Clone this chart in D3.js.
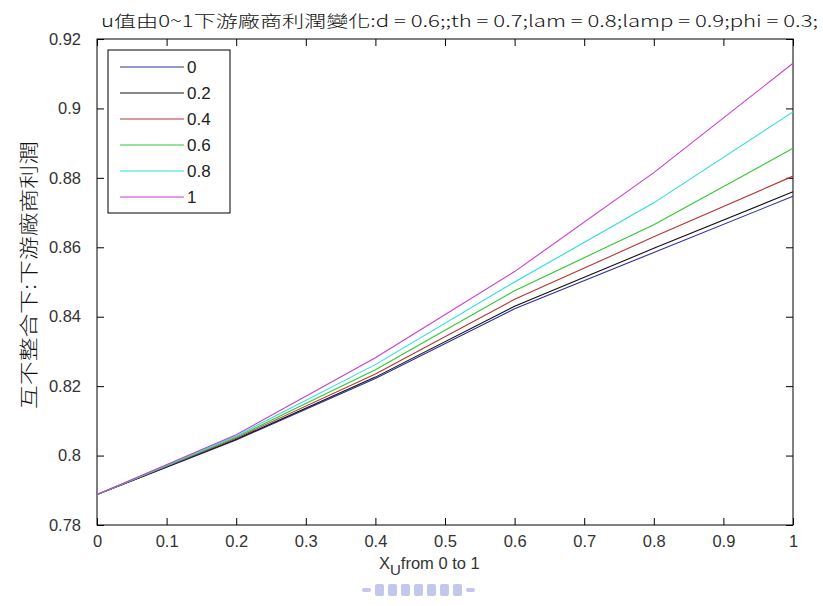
<!DOCTYPE html>
<html><head><meta charset="utf-8">
<script src="https://cdn.jsdelivr.net/npm/d3@7"></script>
<style>body{margin:0;background:#fff}svg{display:block}</style>
</head><body>
<svg id="c" width="823" height="606"></svg>
<script>
const xValues = [0, 0.2, 0.4, 0.6, 0.8, 1];
const seriesNames = ["0", "0.2", "0.4", "0.6", "0.8", "1"];
const u0   = [0.7888, 0.8045, 0.8222, 0.8423, 0.8585, 0.8747];
const u02  = [0.7888, 0.8047, 0.8226, 0.8430, 0.8597, 0.8760];
const u04  = [0.7888, 0.8050, 0.8235, 0.8450, 0.8630, 0.8805];
const u06  = [0.7888, 0.8053, 0.8247, 0.8475, 0.8665, 0.8885];
const u08  = [0.7888, 0.8056, 0.8262, 0.8500, 0.8728, 0.8990];
const u1   = [0.7888, 0.8060, 0.8282, 0.8530, 0.8815, 0.9130];
const xTicks = [0, 0.1, 0.2, 0.3, 0.4, 0.5, 0.6, 0.7, 0.8, 0.9, 1];
const yTicks = [0.78, 0.8, 0.82, 0.84, 0.86, 0.88, 0.9, 0.92];
const colors = ["#2e2ea6", "#111111", "#b83434", "#30c830", "#28dede", "#cc3acc"];
const titleText = "u值由0~1下游廠商利潤變化:d = 0.6;;th = 0.7;lam = 0.8;lamp = 0.9;phi = 0.3;";
const yLabel = "互不整合下:下游廠商利潤";

const series = [u0, u02, u04, u06, u08, u1];
const svg = d3.select("#c");
const L = 97, R = 793, T = 39, B = 525;
const x = d3.scaleLinear().domain([0, 1]).range([L, R]);
const y = d3.scaleLinear().domain([0.78, 0.92]).range([B, T]);
const font = "'Liberation Sans', Arial, sans-serif";

// frame
svg.append("rect").attr("x", L).attr("y", T).attr("width", R - L).attr("height", B - T)
  .attr("fill", "none").attr("stroke", "#000").attr("stroke-width", 1);

// axes with inward ticks
const fmt = d => d3.format("")(+d.toFixed(2));
const xb = svg.append("g").attr("transform", `translate(0,${B})`)
  .call(d3.axisBottom(x).tickValues(xTicks).tickSizeInner(-7).tickSizeOuter(0).tickPadding(10).tickFormat(fmt));
const xt = svg.append("g").attr("transform", `translate(0,${T})`)
  .call(d3.axisTop(x).tickValues(xTicks).tickSizeInner(-7).tickSizeOuter(0).tickFormat(""));
const yl = svg.append("g").attr("transform", `translate(${L},0)`)
  .call(d3.axisLeft(y).tickValues(yTicks).tickSizeInner(-7).tickSizeOuter(0).tickPadding(16).tickFormat(fmt));
const yr = svg.append("g").attr("transform", `translate(${R},0)`)
  .call(d3.axisRight(y).tickValues(yTicks).tickSizeInner(-7).tickSizeOuter(0).tickFormat(""));
[xb, xt, yl, yr].forEach(g => {
  g.select(".domain").remove();
  g.selectAll("line").attr("stroke", "#000");
  g.selectAll("text").attr("font-family", font).attr("font-size", 16.5).attr("fill", "#333");
});

// lines
const line = d3.line().x((d, i) => x(xValues[i])).y(d => y(d));
series.forEach((s, k) => {
  svg.append("path").datum(s).attr("d", line).attr("fill", "none")
    .attr("stroke", colors[k]).attr("stroke-width", 1.1);
});

// legend
const lg = svg.append("g");
lg.append("rect").attr("x", 108).attr("y", 50).attr("width", 122).attr("height", 163)
  .attr("fill", "#fff").attr("stroke", "#000").attr("stroke-width", 1);
seriesNames.forEach((n, k) => {
  const yy = 67 + k * 26;
  lg.append("line").attr("x1", 120).attr("x2", 184).attr("y1", yy).attr("y2", yy)
    .attr("stroke", colors[k]).attr("stroke-width", 1.1);
  lg.append("text").attr("x", 187).attr("y", yy + 6).text(n)
    .attr("font-family", font).attr("font-size", 17).attr("fill", "#222");
});

// title
svg.append("text").attr("x", 101).attr("y", 27).text(titleText)
  .attr("font-family", "'Noto Sans CJK TC', 'Liberation Sans', sans-serif").attr("font-size", 16)
  .attr("font-weight", 300)
  .attr("textLength", 717).attr("lengthAdjust", "spacingAndGlyphs").attr("fill", "#111");

// x label
const xlab = svg.append("text").attr("x", 379).attr("y", 569)
  .attr("font-family", font).attr("font-size", 16.5).attr("fill", "#333");
xlab.append("tspan").text("X");
xlab.append("tspan").attr("dy", 6).attr("font-size", 15).text("U");
xlab.append("tspan").attr("dy", -6).text("from 0 to 1");

// y label
svg.append("text").attr("transform", "translate(36,275) rotate(-90)")
  .attr("text-anchor", "middle").text(yLabel)
  .attr("font-family", "'Noto Sans CJK TC', sans-serif").attr("font-size", 19).attr("font-weight", 300)
  .attr("textLength", 268).attr("lengthAdjust", "spacingAndGlyphs").attr("fill", "#111");

// faint watermark bars
const wm = [362, 375, 388, 401, 414, 427, 440, 453, 466];
wm.forEach((wx, i) => {
  svg.append("rect").attr("x", wx).attr("y", i === 0 || i === 8 ? 588 : 584)
    .attr("width", 9).attr("height", i === 0 || i === 8 ? 4 : 12).attr("rx", 2)
    .attr("fill", "#8890d8").attr("opacity", 0.5);
});
</script>
</body></html>
